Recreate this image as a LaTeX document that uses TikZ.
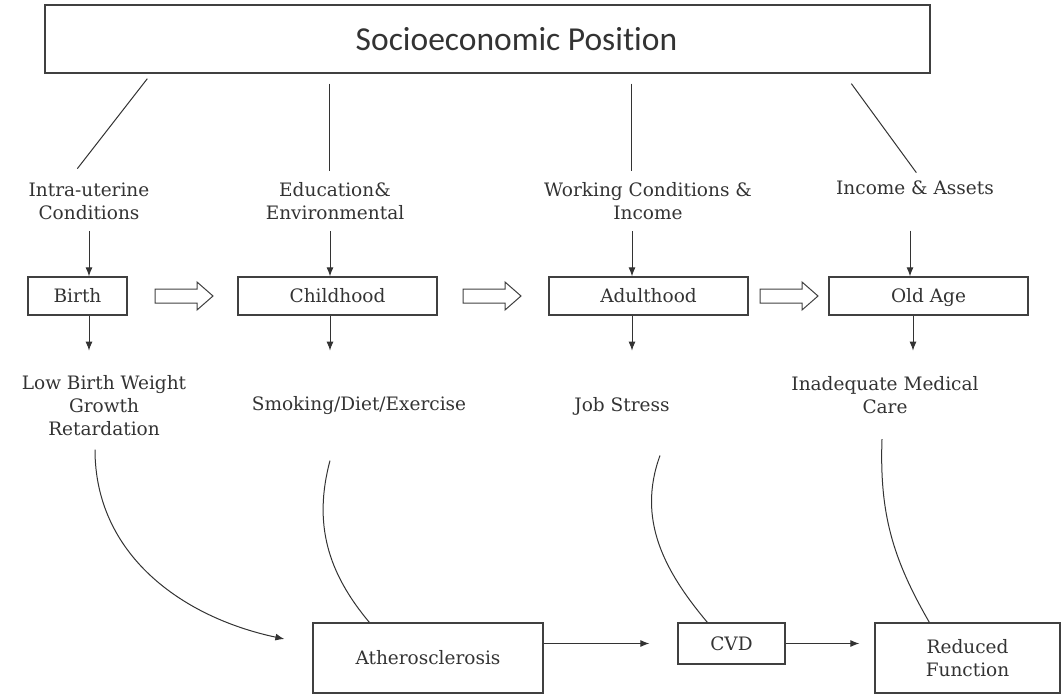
\documentclass[tikz,border=0pt]{standalone}
\usepackage{fontspec}
\setmainfont{DejaVu Serif}
\newfontfamily\titlefont[Ligatures = NoCommon]{Carlito}
\usetikzlibrary{arrows.meta}
\begin{document}
\begin{tikzpicture}[x = 1pt, y = 1pt,
        box/.style = {draw = black!75, line width = 1.3pt, inner sep = 0pt, text = black!80,
            font = \fontsize{18.5}{23}\selectfont},
        stage/.style = {box, minimum width = 199, minimum height = 38, text height = 15pt, text depth = 3pt},
        lbl/.style = {align = center, text = black!80, font = \fontsize{18.5}{23}\selectfont},
        arr/.style = {draw = black!80, line width = 1pt, -{Latex[length = 9pt, width = 7pt]}},
        curve/.style = {draw = black!80, line width = 1pt}]
        \useasboundingbox (0, 0) rectangle (1063, -695);
        % top box
        \node[box, minimum width = 885, minimum height = 68] (sep) at (487.5, -39) {};
        \node[text = black!80, font = \titlefont\fontsize{33.5}{38}\selectfont] (sept) at ([xshift = 29]sep.center) {Socioeconomic Position};
        % pathways
        \node[lbl] (iu) at (89, -201) {Intra-uterine\\Conditions};
        \node[lbl] (edu) at (335, -201) {Education\&\\Environmental};
        \node[lbl] (work) at (648, -201) {Working Conditions \&\\Income};
        \node[lbl] (inc) at (915, -188) {Income \& Assets};
        \draw[curve] ([shift = {(103, -5)}]sep.south west) -- ++(-70, -90);
        \draw[curve] ([shift = {(285, -10)}]sep.south west) -- ++(0, -87);
        \draw[curve] ([shift = {(587, -10)}]sep.south west) -- ++(0, -87);
        \draw[curve] ([shift = {(807, -10)}]sep.south west) -- ++(65, -89);
        % life stages
        \node[stage, minimum width = 99] (birth) at (77.5, -296) {Birth};
        \node[stage] (child) at (337.5, -296) {Childhood};
        \node[stage] (adult) at (648.5, -296) {Adulthood};
        \node[stage] (old) at (928.5, -296) {Old Age};
        \foreach \x in {155, 463, 760}
            {\draw[draw = black!75, line width = 1pt] (\x, -289) -- ++(42, 0) -- ++(0, 7) -- ++(16, -14)
                -- ++(-16, -14) -- ++(0, 7) -- ++(-42, 0) -- cycle;};
        \foreach \a/\b/\dx/\s in {iu/birth/11.5/8, edu/child/-7.5/8, work/adult/-16.5/8, inc/old/-18.5/32}
            {\draw[arr, shorten < = \s] ([xshift = \dx]\b.north |- \a.south) -- ([xshift = \dx]\b.north);};
        % risks
        \node[lbl] (lbw) at (104, -406) {Low Birth Weight\\Growth\\Retardation};
        \node[lbl] (smk) at (359, -406) {Smoking/Diet/Exercise};
        \node[lbl] (job) at (622, -406) {Job Stress};
        \node[lbl] (med) at (885, -395) {Inadequate Medical\\Care};
        \foreach \b/\dx in {birth/11.5, child/-7.5, adult/-16.5, old/-15.5}
            {\draw[arr] ([xshift = \dx]\b.south) -- ++(0, -35);};
        % outcomes
        \node[box, minimum width = 230, minimum height = 70] (ath) at (428, -658) {Atherosclerosis};
        \node[box, minimum width = 107, minimum height = 41] (cvd) at (731.5, -643.5) {CVD};
        \node[box, minimum width = 185, minimum height = 70, align = center] (rf) at (967.5, -658) {Reduced\\Function};
        \draw[arr, shorten > = 28] (ath.east |- cvd.west) -- (cvd.west);
        \draw[arr, shorten > = 15] (cvd.east) -- (cvd.east -| rf.west);
        \draw[arr] ([shift = {(-9, -10)}]lbw.south) to[out = -90, in = 168] ([shift = {(-28, 19)}]ath.west);
        \draw[curve] ([shift = {(-29, -42)}]smk.south) to[out = -105, in = 130] ([xshift = 57]ath.north west);
        \draw[curve] ([shift = {(38, -37)}]job.south) to[out = -110, in = 130] ([xshift = 30]cvd.north west);
        \draw[curve] ([shift = {(-3, -22)}]med.south) to[out = -92, in = 120] ([xshift = 55]rf.north west);
\end{tikzpicture}
\end{document}
